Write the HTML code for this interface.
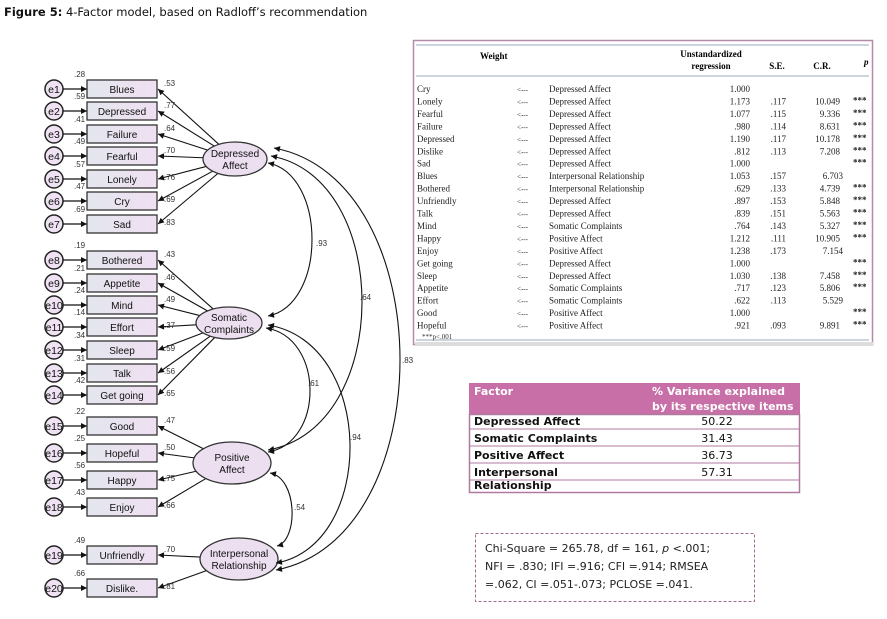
<!DOCTYPE html>
<html><head><meta charset="utf-8">
<style>
body{margin:0;background:#fff;width:887px;height:619px;overflow:hidden;font-family:"Liberation Sans",sans-serif;}
svg{position:absolute;left:0;top:0}
</style></head>
<body>
<svg id="s" width="887" height="619" viewBox="0 0 887 619" xmlns="http://www.w3.org/2000/svg">
<defs>
<marker id="a" viewBox="0 0 10 10" refX="10" refY="5" markerWidth="9" markerHeight="6" orient="auto" markerUnits="userSpaceOnUse"><path d="M0,0L10,5L0,10z" fill="#111"/></marker>
<linearGradient id="bg" x1="0" x2="1"><stop offset="0" stop-color="#e4e6ee"/><stop offset="1" stop-color="#efe0f2"/></linearGradient>
</defs>
<text x="4" y="16" font-family="DejaVu Sans,sans-serif" font-size="11.5" fill="#111"><tspan font-weight="bold">Figure 5:</tspan> 4-Factor model, based on Radloff’s recommendation</text>
<g id="g"></g>
</svg>
<script>
const g=document.getElementById('g');let h='';
const items=[["Blues",89,".28",".53"],["Depressed",111,".59",".77"],["Failure",134,".41",".64"],["Fearful",156,".49",".70"],["Lonely",179,".57",".76"],["Cry",201,".47",".69"],["Sad",224,".69",".83"],
["Bothered",260,".19",".43"],["Appetite",283,".21",".46"],["Mind",305,".24",".49"],["Effort",327,".14",".37"],["Sleep",350,".34",".59"],["Talk",373,".31",".56"],["Get going",395,".42",".65"],
["Good",426,".22",".47"],["Hopeful",453,".25",".50"],["Happy",480,".56",".75"],["Enjoy",507,".43",".66"],
["Unfriendly",555,".49",".70"],["Dislike.",588,".66",".81"]];
const fac=[[235,159,32,17,"Depressed","Affect",0,7],[229,323,33,16,"Somatic","Complaints",7,14],[232,463,39,21,"Positive","Affect",14,18],[239,559,39,21,"Interpersonal","Relationship",18,20]];
items.forEach((it,i)=>{const y=it[1];
h+=`<circle cx="54" cy="${y}" r="9" fill="#efe2f2" stroke="#222" stroke-width="1.5"/><text x="54" y="${y+4}" font-size="10.5" text-anchor="middle" fill="#111">e${i+1}</text>`;
h+=`<line x1="63" y1="${y}" x2="87" y2="${y}" stroke="#111" stroke-width="1.2" marker-end="url(#a)"/>`;
h+=`<rect x="87" y="${y-9}" width="70" height="18" fill="url(#bg)" stroke="#333" stroke-width="1.3"/><text x="122" y="${y+4}" font-size="10" text-anchor="middle" fill="#111">${it[0]}</text>`;
h+=`<text x="74" y="${y-12}" font-size="8" fill="#333">${it[2]}</text>`;});
fac.forEach(f=>{const[cx,cy,rx,ry]=f;for(let i=f[6];i<f[7];i++){const ty=items[i][1];const tx=158;let dx=tx-cx,dy=ty-cy;const t=1/Math.sqrt(dx*dx/(rx*rx)+dy*dy/(ry*ry));const sx=cx+dx*t,sy=cy+dy*t;
h+=`<line x1="${sx}" y1="${sy}" x2="${tx}" y2="${ty}" stroke="#111" stroke-width="1.1" marker-end="url(#a)"/>`;
h+=`<text x="${164}" y="${ty-(ty<cy?3:-1)}" font-size="8" fill="#333">${items[i][3]}</text>`;}
h+=`<ellipse cx="${cx}" cy="${cy}" rx="${rx}" ry="${ry}" fill="#ebdff0" stroke="#333" stroke-width="1.3"/><text x="${cx}" y="${cy-2}" font-size="10" text-anchor="middle" fill="#111">${f[4]}</text><text x="${cx}" y="${cy+10}" font-size="10" text-anchor="middle" fill="#111">${f[5]}</text>`;});
const cov=[[268,163,268,316,312,".93",316,246],[271,156,268,450,362,".64",360,300],[274,148,276,570,400,".83",402,363],[266,328,268,452,310,".61",308,386],[268,325,276,563,350,".94",350,440],[270,473,277,546,292,".54",294,510]];
cov.forEach(c=>{const cx=(8*c[4]-c[0]-c[2])/6;const my=(c[1]+c[3])/2;
h+=`<path d="M${c[0]},${c[1]} C${cx},${c[1]+ (my-c[1])*0.15} ${cx},${c[3]-(c[3]-my)*0.15} ${c[2]},${c[3]}" fill="none" stroke="#111" stroke-width="1.1" marker-start="url(#a2)" marker-end="url(#a)"/>`;
h+=`<text x="${c[6]}" y="${c[7]}" font-size="8" fill="#333">${c[5]}</text>`;});
// table 1
h+=`<rect x="413.5" y="40.5" width="459" height="304" fill="#fff" stroke="#b58aa8" stroke-width="1.5"/><rect x="415" y="342" width="458" height="4" fill="#ddd"/>`;
h+=`<line x1="416" y1="45" x2="869" y2="45" stroke="#9ab" stroke-width="1"/><line x1="416" y1="76" x2="869" y2="76" stroke="#9ab" stroke-width="1"/><line x1="416" y1="340" x2="869" y2="340" stroke="#9ab" stroke-width="1"/>`;
const sf='font-family="Liberation Serif,serif"';
h+=`<text x="480" y="59" ${sf} font-size="9" font-weight="bold">Weight</text><text x="711" y="57" ${sf} font-size="9" font-weight="bold" text-anchor="middle">Unstandardized</text><text x="711" y="69" ${sf} font-size="9" font-weight="bold" text-anchor="middle">regression</text><text x="777" y="69" ${sf} font-size="9" font-weight="bold" text-anchor="middle">S.E.</text><text x="822" y="69" ${sf} font-size="9" font-weight="bold" text-anchor="middle">C.R.</text><text x="864" y="65" ${sf} font-size="9" font-weight="bold" font-style="italic">p</text>`;
const rows=[["Cry","Depressed Affect","1.000","","",""],["Lonely","Depressed Affect","1.173",".117","10.049","***"],["Fearful","Depressed Affect","1.077",".115","9.336","***"],["Failure","Depressed Affect",".980",".114","8.631","***"],["Depressed","Depressed Affect","1.190",".117","10.178","***"],["Dislike","Depressed Affect",".812",".113","7.208","***"],["Sad","Depressed Affect","1.000","","","***"],["Blues","Interpersonal Relationship","1.053",".157","6.703",""],["Bothered","Interpersonal Relationship",".629",".133","4.739","***"],["Unfriendly","Depressed Affect",".897",".153","5.848","***"],["Talk","Depressed Affect",".839",".151","5.563","***"],["Mind","Somatic Complaints",".764",".143","5.327","***"],["Happy","Positive Affect","1.212",".111","10.905","***"],["Enjoy","Positive Affect","1.238",".173","7.154",""],["Get going","Depressed Affect","1.000","","","***"],["Sleep","Depressed Affect","1.030",".138","7.458","***"],["Appetite","Somatic Complaints",".717",".123","5.806","***"],["Effort","Somatic Complaints",".622",".113","5.529",""],["Good","Positive Affect","1.000","","","***"],["Hopeful","Positive Affect",".921",".093","9.891","***"]];
rows.forEach((r,i)=>{const y=92+i*12.45;const crx=(r[4]==="6.703"||r[4]==="7.154"||r[4]==="5.529")?843:840;
h+=`<g ${sf} font-size="9" fill="#222"><text x="417" y="${y}">${r[0]}</text><text x="517" y="${y}" font-size="7">&lt;---</text><text x="549" y="${y}">${r[1]}</text><text x="750" y="${y}" text-anchor="end">${r[2]}</text><text x="786" y="${y}" text-anchor="end">${r[3]}</text><text x="${crx}" y="${y}" text-anchor="end">${r[4]}</text><text x="853" y="${y-1}" font-size="9" font-weight="bold">${r[5]}</text></g>`;});
h+=`<text x="422" y="339" ${sf} font-size="7" fill="#333">***p&lt;.001</text>`;
// table 2
const tf='font-family="DejaVu Sans,sans-serif"';
h+=`<rect x="469" y="383" width="331" height="31" fill="#c76fa6"/><text x="474" y="395" ${tf} font-size="11" font-weight="bold" fill="#fff">Factor</text><text x="652" y="395" ${tf} font-size="11" font-weight="bold" fill="#fff">% Variance explained</text><text x="652" y="410" ${tf} font-size="11" font-weight="bold" fill="#fff">by its respective items</text>`;
h+=`<rect x="469.5" y="414.5" width="330" height="78" fill="none" stroke="#b07aa0" stroke-width="1.5"/>`;
[[425,"Depressed Affect","50.22"],[442,"Somatic Complaints","31.43"],[459,"Positive Affect","36.73"],[476,"Interpersonal","57.31"]].forEach(r=>{h+=`<text x="474" y="${r[0]}" ${tf} font-size="11" font-weight="bold" fill="#111">${r[1]}</text><text x="717" y="${r[0]}" ${tf} font-size="11" text-anchor="middle" fill="#111">${r[2]}</text>`;
h+=`<line x1="470" y1="${r[0]+4}" x2="799" y2="${r[0]+4}" stroke="#b07aa0" stroke-width="1"/>`;});
h+=`<text x="474" y="489" ${tf} font-size="11" font-weight="bold" fill="#111">Relationship</text>`;
// chi box
h+=`<rect x="475.5" y="533.5" width="279" height="68" fill="none" stroke="#a06a90" stroke-width="1" stroke-dasharray="3,2"/>`;
h+=`<g ${tf} font-size="11" fill="#222"><text x="485" y="552">Chi-Square = 265.78, df = 161, <tspan font-style="italic">p</tspan> &lt;.001;</text><text x="485" y="570">NFI = .830; IFI =.916; CFI =.914; RMSEA</text><text x="485" y="588">=.062, CI =.051-.073; PCLOSE =.041.</text></g>`;
g.innerHTML=h;
</script>
<svg width="0" height="0" style="position:absolute"><defs><marker id="a2" viewBox="0 0 10 10" refX="0" refY="5" markerWidth="9" markerHeight="6" orient="auto" markerUnits="userSpaceOnUse"><path d="M10,0L0,5L10,10z" fill="#111"/></marker></defs></svg>
</body></html>
